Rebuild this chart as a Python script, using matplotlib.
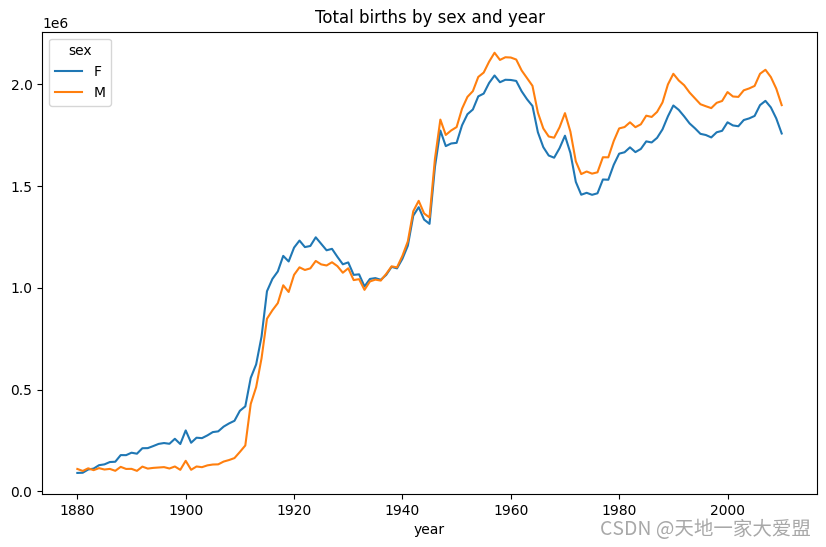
import numpy as np
import pandas as pd
import matplotlib
matplotlib.use("Agg")
import matplotlib.pyplot as plt

# total births by sex, 1880-2010
years = list(range(1880, 2011))
births_f = [
    90993, 91955, 107851, 112322, 129021, 133056, 144538, 145983, 178631, 178369,
    190377, 185486, 212350, 212908, 222923, 233632, 237924, 234199, 258771, 233022,
    299873, 239351, 264079, 261976, 275375, 291641, 295301, 318558, 334277, 347191,
    396416, 418180, 557939, 624317, 761376, 983824, 1044249, 1081194, 1157585, 1130149,
    1198214, 1232845, 1200796, 1206239, 1248821, 1217217, 1185078, 1192207, 1152836, 1116284,
    1125521, 1064233, 1066930, 1007523, 1044250, 1048395, 1040124, 1063999, 1103617, 1096219,
    1143246, 1207853, 1355041, 1397039, 1336057, 1314903, 1594734, 1773456, 1697073, 1709998,
    1713065, 1799114, 1853766, 1876937, 1941597, 1955193, 2007574, 2044160, 2010884, 2023044,
    2022018, 2017316, 1966508, 1927155, 1894262, 1765091, 1691874, 1650770, 1640022, 1686767,
    1748139, 1663479, 1521335, 1458138, 1467494, 1457695, 1465095, 1532978, 1531785, 1605121,
    1659933, 1666819, 1690915, 1667495, 1683046, 1720294, 1714931, 1737597, 1779244, 1843303,
    1896706, 1875113, 1843170, 1808473, 1784304, 1757362, 1751570, 1739694, 1765012, 1772140,
    1813977, 1798620, 1794712, 1825201, 1833225, 1845274, 1898463, 1919408, 1887234, 1832925,
    1759010,
]
births_m = [
    110493, 100748, 113687, 104632, 114445, 107802, 110785, 101412, 120857, 110590,
    111025, 101196, 122037, 112317, 115772, 117398, 119570, 112758, 122693, 106212,
    150554, 106478, 122660, 119240, 128129, 132319, 133159, 146838, 154339, 163983,
    194198, 225964, 429926, 512482, 654746, 848647, 890142, 925483, 1013139, 980215,
    1064468, 1101374, 1088380, 1096227, 1132671, 1115798, 1110440, 1126259, 1107113, 1074833,
    1096663, 1038586, 1043262, 990679, 1031962, 1040893, 1036178, 1068945, 1106231, 1101059,
    1158047, 1229098, 1376935, 1428176, 1366180, 1346156, 1634591, 1827306, 1751845, 1774059,
    1790549, 1880767, 1939011, 1967096, 2036938, 2058478, 2112072, 2155866, 2120596, 2133679,
    2132350, 2122502, 2068856, 2031340, 1993283, 1861701, 1783850, 1744264, 1738370, 1789436,
    1859034, 1768467, 1622160, 1559637, 1572209, 1561784, 1568210, 1642216, 1641925, 1722047,
    1784008, 1790718, 1813965, 1790001, 1804127, 1846572, 1840362, 1865129, 1911585, 2000020,
    2052447, 2019567, 1996131, 1960154, 1931222, 1902898, 1892924, 1883766, 1909738, 1918807,
    1962556, 1940889, 1938854, 1971270, 1980503, 1992744, 2052377, 2072139, 2036289, 1979303,
    1898382,
]

total_births = pd.DataFrame({"F": births_f, "M": births_m},
                            index=pd.Index(years, name="year"))
total_births.columns.name = "sex"

fig = plt.figure(figsize=(8.26, 5.47), dpi=100)
ax = fig.add_axes([0.051, 0.097, 0.938, 0.845])
total_births.plot(ax=ax, title="Total births by sex and year")
ax.legend(title="sex", loc="upper left")

# watermark
fig.text(0.982, 0.012, "CSDN @天地一家大爱盟", ha="right", va="bottom",
         fontsize=14, color="#999999", alpha=0.85,
         family=["Noto Sans CJK SC", "DejaVu Sans"])

fig.savefig("out.png", dpi=100)
